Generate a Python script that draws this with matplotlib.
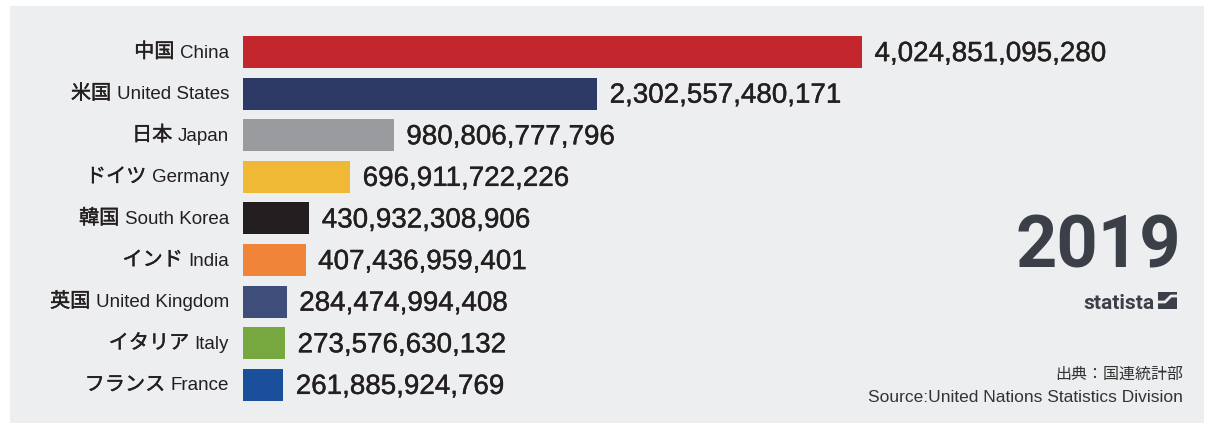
import matplotlib as mpl
from matplotlib import pyplot as plt
from matplotlib.patches import Rectangle
from matplotlib.lines import Line2D
from matplotlib.offsetbox import TextArea, HPacker, AnnotationBbox
import matplotlib.patheffects as pe

# data
names_ja = ['中国', '米国', '日本', 'ドイツ', '韓国', 'インド', '英国', 'イタリア', 'フランス']
names_en = ['China', 'United States', 'Japan', 'Germany', 'South Korea', 'India',
            'United Kingdom', 'Italy', 'France']
values = [4024851095280, 2302557480171, 980806777796, 696911722226, 430932308906,
          407436959401, 284474994408, 273576630132, 261885924769]
bar_colors = ['#C4262E', '#2E3A66', '#9A9B9E', '#F0B935', '#231F20',
              '#F0853A', '#3E4D7A', '#76A83F', '#1A4F9C']
year = '2019'

W, H = 1214, 424
fig = plt.figure(figsize=(W / 100, H / 100), dpi=100)
fig.patch.set_facecolor('white')

# light grey panel behind everything
fig.add_artist(Rectangle((10 / W, 1 - 423 / H), (1204 - 10) / W, (423 - 6) / H,
                         transform=fig.transFigure, facecolor='#EDEEF0',
                         edgecolor='none', zorder=0))

# axes: left edge at bar start, scale so China ends near x=862px
ax_left, ax_right = 243, 1204
row_top, row_step = 52, 41.6
ax_top = row_top - row_step * 0.5
ax_bot = row_top + row_step * 8.5
ax = fig.add_axes([ax_left / W, 1 - ax_bot / H, (ax_right - ax_left) / W, (ax_bot - ax_top) / H])
ax.set_facecolor('none')
ax.set_axis_off()
xmax = (ax_right - ax_left) / (862 - ax_left) * values[0]
ax.set_xlim(0, xmax)
ax.set_ylim(len(values) - 0.5, -0.5)

ypos = list(range(len(values)))
ax.barh(ypos, values, height=0.77, color=bar_colors, zorder=2)

lat = 'Liberation Sans'
cjk = 'Noto Sans CJK JP'
dark = '#231F20'
thick = [pe.withStroke(linewidth=0.3, foreground=dark)]

for y, v in zip(ypos, values):
    ax.annotate(f'{v:,}', xy=(v, y), xytext=(9, -1.5), textcoords='offset points',
                ha='left', va='center', fontsize=20, family=lat, color=dark,
                path_effects=thick)

for y, ja, en in zip(ypos, names_ja, names_en):
    t1 = TextArea(ja, textprops=dict(family=[cjk, 'DejaVu Sans'], fontsize=14.5,
                                     color=dark, path_effects=thick))
    t2 = TextArea(en, textprops=dict(family=lat, fontsize=13.5, color=dark))
    box = HPacker(children=[t1, t2], align='baseline', pad=0, sep=4)
    ab = AnnotationBbox(box, (0, y), xybox=(-10, 0), boxcoords='offset points',
                        box_alignment=(1, 0.5), frameon=False, pad=0,
                        annotation_clip=False)
    ax.add_artist(ab)

# year
fig.text(1181 / W, 1 - 268 / H, year, ha='right', va='baseline', fontsize=52,
         family='Roboto', weight='bold', color='#3B4048')

# statista logo
fig.text(1154 / W, 1 - 309 / H, 'statista', ha='right', va='baseline', fontsize=15,
         family='Roboto', weight='bold', color='#3B4048')
fig.add_artist(Rectangle((1158 / W, 1 - 309 / H), 19 / W, 17 / H,
                         transform=fig.transFigure, facecolor='#3B4048',
                         edgecolor='none'))
lx = [1158, 1165, 1171, 1177]
ly = [302, 302, 296, 296]
fig.add_artist(Line2D([x / W for x in lx], [1 - y / H for y in ly],
                      transform=fig.transFigure, color='#EDEEF0', lw=2))

# source
fig.text(1183 / W, 1 - 374 / H, '出典：国連統計部', ha='right', va='center',
         fontsize=11.5, family=[cjk, 'DejaVu Sans'], color='#333333')
fig.text(1183 / W, 1 - 398 / H, 'Source:United Nations Statistics Division',
         ha='right', va='center', fontsize=12.5, family=lat, color='#333333')

fig.savefig('out.png', dpi=100, facecolor=fig.get_facecolor())
